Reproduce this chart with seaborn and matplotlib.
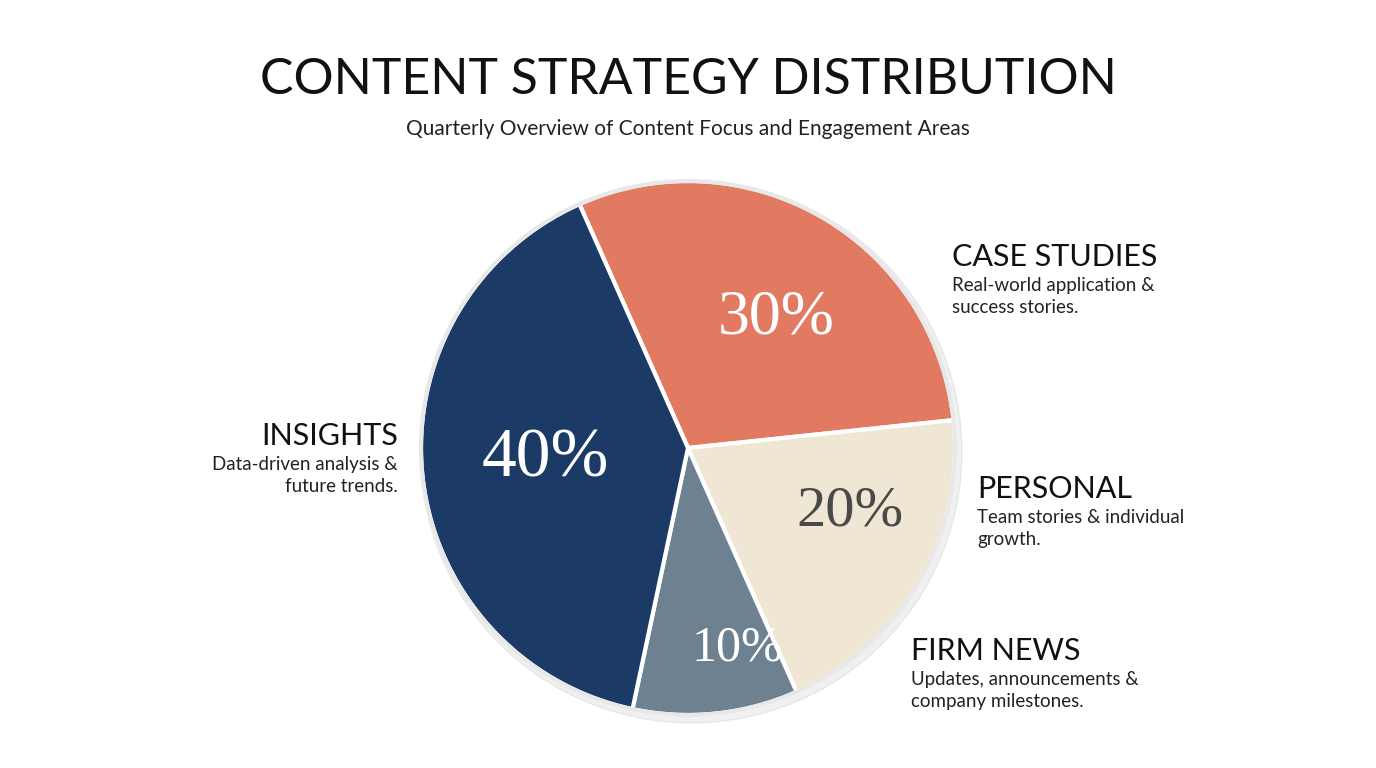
import matplotlib
matplotlib.use("Agg")
import matplotlib.pyplot as plt
import seaborn as sns

sns.set_theme(style="white")
plt.rcParams['font.family'] = ['Lato', 'DejaVu Sans']

categories = ["CASE STUDIES", "PERSONAL", "FIRM NEWS", "INSIGHTS"]
values = [30, 20, 10, 40]
descriptions = ["Real-world application &\nsuccess stories.",
                "Team stories & individual\ngrowth.",
                "Updates, announcements &\ncompany milestones.",
                "Data-driven analysis &\nfuture trends."]
colors = ["#e27a62", "#efe6d3", "#6d8190", "#1c3a66"]
pct_colors = ["white", "#4a4a4a", "white", "white"]

W, H = 1376, 768
fig = plt.figure(figsize=(W/100, H/100), dpi=100)
ax = fig.add_axes([0, 0, 1, 1])
ax.set_xlim(0, W); ax.set_ylim(0, H); ax.axis("off")

cx, cy, r = 688, H-448, 267
# subtle shadow
ax.add_patch(plt.Circle((cx+3, cy-4), r+4, color="#000000", alpha=0.06, zorder=0))
wedges, _ = ax.pie(values, colors=colors, startangle=114, counterclock=False,
                   center=(cx, cy), radius=r, frame=True,
                   wedgeprops=dict(edgecolor="white", linewidth=3))
ax.set_xlim(0, W); ax.set_ylim(0, H); ax.set_aspect("equal"); ax.axis("off")
ax.add_patch(plt.Circle((cx, cy), r, fill=False, ec="#e8e8e8", lw=3, zorder=5))

pct_pos = [(776, 318), (850, 512), (738, 648), (545, 460)]
pct_size = [46, 42, 36, 50]
for (px, py), v, c, s in zip(pct_pos, values, pct_colors, pct_size):
    ax.text(px, H-py, f"{v}%", ha="center", va="center", fontsize=s, color=c,
            family=["Liberation Serif", "DejaVu Serif"])

lab = [(952, 257, "left"), (977, 489, "left"), (911, 651, "left"), (398, 436, "right")]
for (lx, ly, ha), cat, d in zip(lab, categories, descriptions):
    ax.text(lx, H-ly, cat, ha=ha, va="center", fontsize=22, color="#111111")
    ax.text(lx, H-ly-20, d, ha=ha, va="top", fontsize=13.5, color="#222222",
            linespacing=1.35, multialignment=ha)

ax.text(W/2, H-80, "CONTENT STRATEGY DISTRIBUTION", ha="center", va="center",
        fontsize=36, color="#111111")
ax.text(W/2, H-129, "Quarterly Overview of Content Focus and Engagement Areas",
        ha="center", va="center", fontsize=15, color="#222222")

fig.savefig("out.png", dpi=100, facecolor="white")
